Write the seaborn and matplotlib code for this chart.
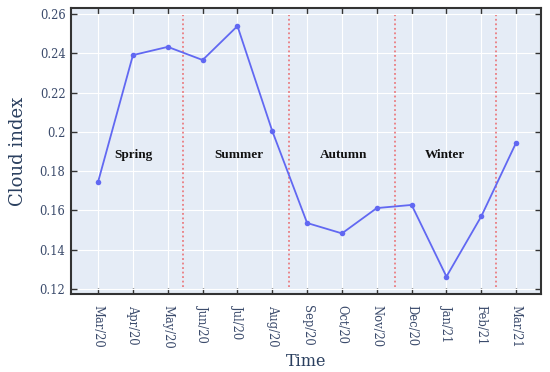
import matplotlib
matplotlib.use("Agg")
import matplotlib.pyplot as plt
import seaborn as sns
import pandas as pd

months = ["Mar/20", "Apr/20", "May/20", "Jun/20", "Jul/20", "Aug/20", "Sep/20",
          "Oct/20", "Nov/20", "Dec/20", "Jan/21", "Feb/21", "Mar/21"]
cloud_index = [0.1746, 0.2391, 0.2433, 0.2366, 0.2539, 0.2004, 0.1536,
               0.1483, 0.1612, 0.1628, 0.1263, 0.1570, 0.1945]
season_names = ["Spring", "Summer", "Autumn", "Winter"]
season_label_pos = [1.0, 4.05, 7.04, 9.97]
season_boundaries = [2.44, 5.49, 8.53, 11.41]
yticks = [0.12, 0.14, 0.16, 0.18, 0.20, 0.22, 0.24, 0.26]
ytick_labels = ["0.12", "0.14", "0.16", "0.18", "0.2", "0.22", "0.24", "0.26"]

sns.set_theme(style="darkgrid", rc={"axes.facecolor": "#E5ECF6", "grid.color": "white"})
plt.rcParams["font.family"] = ["DejaVu Serif"]

df = pd.DataFrame({"x": range(len(months)), "y": cloud_index})

fig = plt.figure(figsize=(5.5, 3.72), dpi=100)
ax = fig.add_axes([0.129, 0.21, 0.855, 0.768])

sns.lineplot(data=df, x="x", y="y", ax=ax, color="#6168F2", linewidth=1.3,
             marker="o", markersize=4, markeredgewidth=0, zorder=3)

for b in season_boundaries:
    ax.axvline(b, ymin=0.025, ymax=0.975, color="#EA7C80", linestyle=(0, (1, 1.5)),
               linewidth=1.3, zorder=2)

for name, xp in zip(season_names, season_label_pos):
    ax.text(xp, 0.188, name, ha="center", va="center", fontsize=9.5,
            fontweight="bold", family="Liberation Serif", color="#111111")

ax.set_xlim(-0.78, 12.72)
ax.set_ylim(0.1175, 0.263)
ax.set_xticks(range(len(months)))
ax.set_xticklabels(months, rotation=-90, fontsize=8.3, color="#3a4a6b")
ax.set_yticks(yticks)
ax.set_yticklabels(ytick_labels, fontsize=8.3, color="#3a4a6b")
ax.grid(True, color="white", linewidth=0.8)

ax.tick_params(axis="both", which="both", direction="in", length=4, width=1,
               color="#333333", top=True, right=True, bottom=True, left=True, pad=4)
ax.tick_params(axis="x", pad=8)

for s in ax.spines.values():
    s.set_visible(True)
    s.set_color("#333333")
    s.set_linewidth(1.5)

ax.set_xlabel("Time", fontsize=11.5, color="#2a3f5f", labelpad=3)
ax.set_ylabel("Cloud index", fontsize=13, color="#2a3f5f", labelpad=9)

fig.savefig("out.png", dpi=100)
